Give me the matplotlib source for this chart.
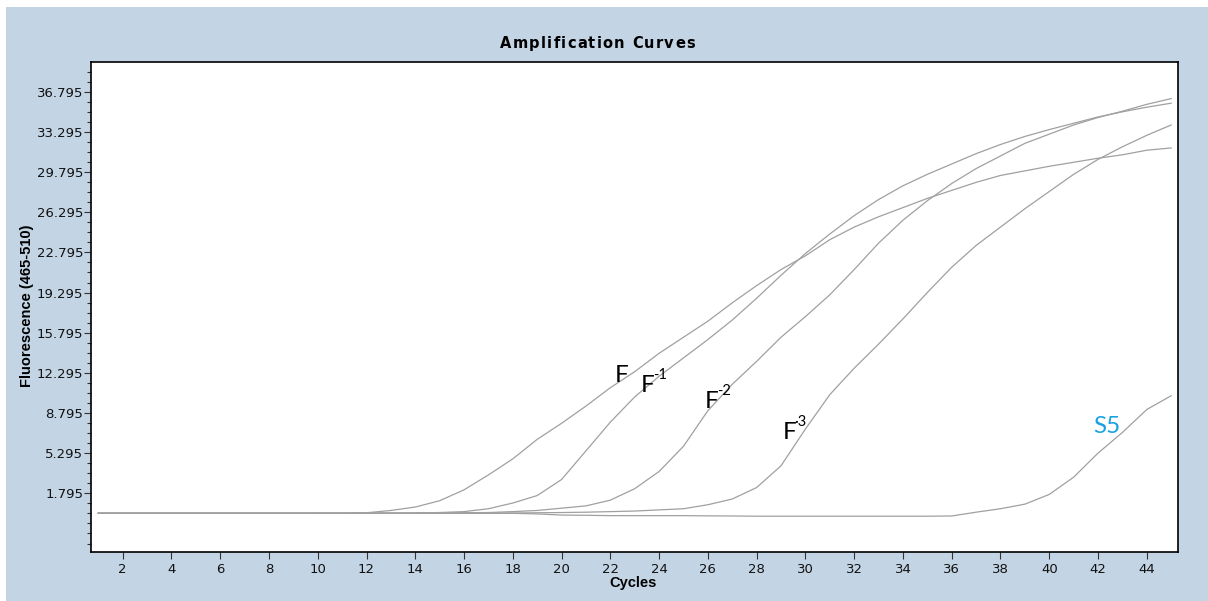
import matplotlib
matplotlib.use("Agg")
import matplotlib.pyplot as plt
import numpy as np
from matplotlib.patches import Rectangle
from matplotlib.font_manager import FontProperties

# PCR cycles and fluorescence readings (465-510) per sample
cycles = list(range(1, 46))
f_0 = [0.05, 0.05, 0.05, 0.05, 0.05, 0.05, 0.05, 0.05, 0.05, 0.05, 0.06,
       0.1, 0.3, 0.6, 1.15, 2.1, 3.4, 4.8, 6.5, 7.9, 9.4, 11.0, 12.4, 14.0,
       15.4, 16.8, 18.4, 19.9, 21.3, 22.5, 23.9, 25.0, 25.9, 26.7, 27.5,
       28.2, 28.9, 29.5, 29.9, 30.3, 30.65, 31.0, 31.3, 31.7, 31.9]
f_1 = [0.05, 0.05, 0.05, 0.05, 0.05, 0.05, 0.05, 0.05, 0.05, 0.05, 0.05,
       0.05, 0.06, 0.08, 0.12, 0.2, 0.45, 0.95, 1.6, 3.0, 5.5, 8.0, 10.2,
       12.0, 13.6, 15.2, 16.9, 18.8, 20.8, 22.7, 24.4, 26.0, 27.4, 28.6,
       29.6, 30.5, 31.4, 32.2, 32.9, 33.5, 34.05, 34.6, 35.05, 35.45, 35.8]
f_2 = [0.08, 0.08, 0.08, 0.08, 0.08, 0.08, 0.08, 0.08, 0.08, 0.08, 0.08,
       0.08, 0.08, 0.08, 0.09, 0.1, 0.12, 0.2, 0.3, 0.5, 0.7, 1.2, 2.2, 3.7,
       5.9, 9.0, 11.3, 13.3, 15.4, 17.2, 19.1, 21.3, 23.6, 25.6, 27.3, 28.8,
       30.1, 31.2, 32.3, 33.1, 33.9, 34.55, 35.1, 35.7, 36.2]
f_3 = [0.05, 0.05, 0.05, 0.05, 0.05, 0.05, 0.05, 0.05, 0.05, 0.05, 0.05,
       0.05, 0.05, 0.05, 0.05, 0.06, 0.07, 0.08, 0.1, 0.12, 0.15, 0.2, 0.25,
       0.35, 0.45, 0.8, 1.3, 2.3, 4.2, 7.4, 10.4, 12.7, 14.8, 17.0, 19.3,
       21.5, 23.4, 25.0, 26.6, 28.1, 29.6, 30.9, 32.0, 33.0, 33.9]
s_5 = [0.05, 0.05, 0.05, 0.05, 0.05, 0.05, 0.05, 0.05, 0.05, 0.05, 0.05,
       0.05, 0.05, 0.05, 0.05, 0.05, 0.05, 0.05, 0.0, -0.1, -0.12, -0.15,
       -0.15, -0.15, -0.15, -0.17, -0.18, -0.2, -0.2, -0.2, -0.2, -0.2, -0.2,
       -0.2, -0.2, -0.18, 0.15, 0.45, 0.85, 1.7, 3.2, 5.3, 7.1, 9.1, 10.3]
series = [f_0, f_1, f_2, f_3, s_5]

label_base = ["F", "F", "F", "F", "S5"]
label_sup = ["", "-1", "-2", "·3", ""]
label_colors = ["black", "black", "black", "black", "#1ba1e2"]
label_x = [22.19, 23.26, 25.88, 29.08, 41.8]
label_y = [11.48, 10.61, 9.21, 6.51, 7.03]

title = "Amplification Curves"

W, H = 1208, 601
fig = plt.figure(figsize=(W / 100, H / 100), dpi=100)
fig.patch.set_facecolor("white")
fig.patches.append(Rectangle((6 / W, 0), 1, 1 - 7 / H, transform=fig.transFigure,
                             facecolor="#c3d4e4", edgecolor="none", zorder=-10))

ax = fig.add_axes([91 / W, 1 - 552 / H, (1178 - 91) / W, (552 - 62) / H])
ax.set_facecolor("white")

for ys in series:
    ax.plot(cycles, ys, color="#a0a0a0", linewidth=0.9)

for base, sup, col, x, y in zip(label_base, label_sup, label_colors, label_x, label_y):
    ax.text(x, y, base, ha="left", va="baseline", fontsize=17.5, color=col, family="Lato")
    if sup:
        ax.annotate(sup, xy=(x, y), xytext=(8.4, 9.5), textcoords="offset points",
                    ha="left", va="baseline", fontsize=10.5, color=col, family="Lato")

ax.set_xlim(0.7, 45.28)
ax.set_ylim(-3.32, 39.39)

xt = list(range(2, 45, 2))
ax.set_xticks(xt)
ax.set_xticklabels([str(v) for v in xt])
yt = [1.795 + 3.5 * k for k in range(11)]
ax.set_yticks(yt)
ax.set_yticklabels([f"{v:.3f}" for v in yt])
ax.set_yticks([1.795 + 0.875 * k for k in range(-5, 43) if -3.3 < 1.795 + 0.875 * k < 39.4], minor=True)

ax.tick_params(axis="both", direction="out", length=5, width=0.8, color="#333333",
               labelsize=9.5, labelcolor="#111111")
ax.tick_params(axis="y", pad=0.5)
ax.tick_params(axis="x", pad=3)
ax.tick_params(axis="y", which="minor", length=3, width=0.8, color="#333333")
for sp in ax.spines.values():
    sp.set_color("black")
    sp.set_linewidth(1.2)

# letter-spaced title, drawn one glyph at a time
fp = FontProperties(family="DejaVu Sans", weight="bold", size=10.5)
renderer = fig.canvas.get_renderer()
space_w = (renderer.get_text_width_height_descent("a a", fp, ismath=False)[0]
           - renderer.get_text_width_height_descent("aa", fp, ismath=False)[0])
widths = [space_w if ch == " " else renderer.get_text_width_height_descent(ch, fp, ismath=False)[0]
          for ch in title]
target_w = 195.0
gap = (target_w - sum(widths)) / (len(title) - 1)
xpos = 500.0
for ch, w in zip(title, widths):
    if ch != " ":
        fig.text(xpos / W, 1 - 48 / H, ch, ha="left", va="baseline",
                 fontproperties=fp, color="black")
    xpos += w + gap

fig.text(633 / W, 1 - 583 / H, "Cycles", ha="center", va="center",
         fontsize=10.5, fontweight="bold", family="Liberation Sans")
fig.text(27 / W, 1 - 306 / H, "Fluorescence (465-510)", ha="center", va="center",
         rotation=90, fontsize=10.5, fontweight="bold", family="Liberation Sans")

fig.savefig("out.png", dpi=100)
plt.close(fig)
